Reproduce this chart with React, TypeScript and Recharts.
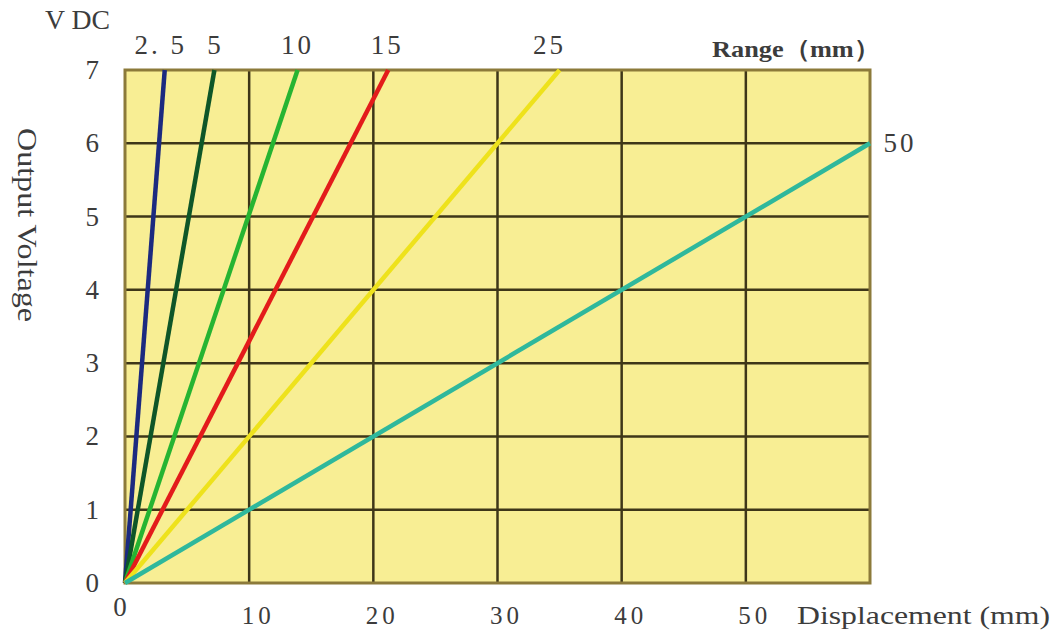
import React from "react";
import {
  LineChart,
  Line,
  XAxis,
  YAxis,
  CartesianGrid,
  ReferenceArea,
} from "recharts";

// range of each sensor (mm) and where its line leaves the plot
const rangeNames = ["2. 5", "5", "10", "15", "25", "50"];
const endDisplacement = [3.2, 7.2, 13.9, 21.2, 35, 60];
const endVoltage = [7, 7, 7, 7, 7, 6];
const lineColors = ["#1c2a80", "#0e5628", "#26b432", "#e31b1b", "#eee21c", "#2fb89c"];
// small nudges of the range labels relative to line ends
const labelDx = [-4, 1, 0, -1, -10, 0];

const xTicks = [0, 10, 20, 30, 40, 50, 60];
const yTicks = [0, 1, 2, 3, 4, 5, 6, 7];
const innerX = [10, 20, 30, 40, 50];
const innerY = [1, 2, 3, 4, 5, 6];

const FONT = "'Liberation Serif', 'DejaVu Serif', serif";
const TEXT = "#3c3c3c";
const NUM_SIZE = 27;

const series = rangeNames.map((name, i) => ({
  name,
  color: lineColors[i],
  dx: labelDx[i],
  points: [
    { x: 0, y: 0 },
    { x: endDisplacement[i], y: endVoltage[i] },
  ],
}));

const XTick = (props: any) => {
  const { x, y, payload } = props;
  const v = payload.value;
  if (v === 60) return null;
  const isZero = v === 0;
  return (
    <text
      x={x + (isZero ? -5 : 9)}
      y={y + (isZero ? 16 : 24)}
      textAnchor="middle"
      dominantBaseline="central"
      fontFamily={FONT}
      fontSize={isZero ? NUM_SIZE : 25}
      fill={TEXT}
      letterSpacing={isZero ? 0 : 4}
    >
      {v}
    </text>
  );
};

const YTick = (props: any) => {
  const { y, payload } = props;
  return (
    <text
      x={99}
      y={y}
      textAnchor="end"
      dominantBaseline="central"
      fontFamily={FONT}
      fontSize={NUM_SIZE}
      fill={TEXT}
    >
      {payload.value}
    </text>
  );
};

const makeEndLabel = (name: string, dx: number) => (props: any) => {
  const { x, y, index } = props;
  if (index !== 1) return null;
  const side = name === "50";
  return (
    <text
      x={side ? x + 30 : x + dx}
      y={side ? y : y - 25}
      textAnchor="middle"
      dominantBaseline="central"
      fontFamily={FONT}
      fontSize={NUM_SIZE}
      fill={TEXT}
      letterSpacing={3}
    >
      {name}
    </text>
  );
};

export default function App() {
  return (
    <div style={{ position: "absolute", left: 0, top: 0, width: 1054, height: 631, background: "#fff" }}>
      <LineChart
        width={1054}
        height={631}
        margin={{ top: 70, right: 184, bottom: 8, left: 65 }}
      >
        <CartesianGrid
          fill="#f8ee94"
          stroke="#3e3618"
          strokeWidth={2.5}
          verticalValues={innerX}
          horizontalValues={innerY}
        />
        <XAxis
          type="number"
          dataKey="x"
          domain={[0, 60]}
          ticks={xTicks}
          height={40}
          axisLine={false}
          tickLine={false}
          tick={<XTick />}
          interval={0}
        />
        <YAxis
          type="number"
          dataKey="y"
          domain={[0, 7]}
          ticks={yTicks}
          width={60}
          axisLine={false}
          tickLine={false}
          tick={<YTick />}
          interval={0}
        />
        <ReferenceArea
          x1={0}
          x2={60}
          y1={0}
          y2={7}
          fill="none"
          stroke="#8c7a3a"
          strokeWidth={3}
          ifOverflow="visible"
        />
        {series.map((s) => (
          <Line
            key={s.name}
            data={s.points}
            dataKey="y"
            type="linear"
            stroke={s.color}
            strokeWidth={4.5}
            dot={false}
            activeDot={false}
            isAnimationActive={false}
            label={makeEndLabel(s.name, s.dx)}
          />
        ))}
      </LineChart>
      <svg
        width={1054}
        height={631}
        style={{ position: "absolute", left: 0, top: 0, pointerEvents: "none" }}
        fontFamily={FONT}
        fill={TEXT}
      >
        <text x={45} y={20} fontSize={27} dominantBaseline="central" textLength={65} lengthAdjust="spacingAndGlyphs">
          V DC
        </text>
        <text x={712} y={49} fontSize={24} fontWeight={600} dominantBaseline="central" textLength={168} lengthAdjust="spacingAndGlyphs">
          Range（mm）
        </text>
        <text x={797} y={615} fontSize={25} dominantBaseline="central" textLength={253} lengthAdjust="spacingAndGlyphs">
          Displacement (mm)
        </text>
        <text
          x={0}
          y={0}
          fontSize={27}
          dominantBaseline="central"
          textAnchor="middle"
          textLength={194}
          lengthAdjust="spacingAndGlyphs"
          transform="translate(27 225) rotate(90)"
        >
          Output Voltage
        </text>
      </svg>
    </div>
  );
}
